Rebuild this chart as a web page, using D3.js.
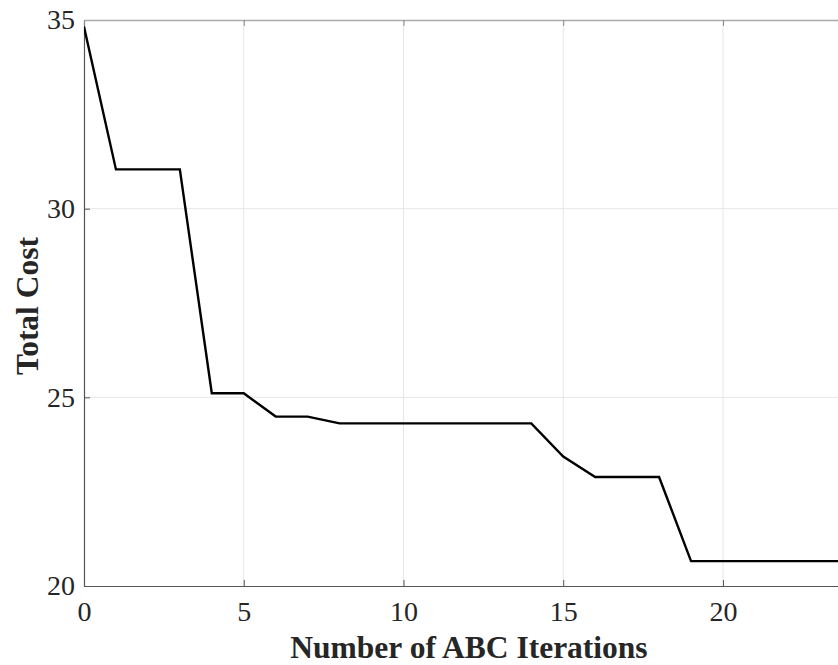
<!DOCTYPE html>
<html>
<head>
<meta charset="utf-8">
<script src="https://cdn.jsdelivr.net/npm/d3@7"></script>
<style>
  html, body { margin: 0; padding: 0; background: #fff; }
  svg { display: block; }
  .serif { font-family: "Liberation Serif", "Times New Roman", serif; }
</style>
</head>
<body>
<svg id="chart" width="838" height="665"></svg>
<script>
// Convergence of the ABC optimisation: best total cost per iteration
const iterations = [0, 1, 2, 3, 4, 5, 6, 7, 8, 9, 10, 11, 12, 13, 14, 15, 16, 17, 18, 19, 20, 21, 22, 23, 24];
const totalCost  = [34.82, 31.04, 31.04, 31.04, 25.11, 25.11, 24.49, 24.49, 24.31, 24.31, 24.31, 24.31, 24.31,
                    24.31, 24.31, 23.43, 22.89, 22.89, 22.89, 20.66, 20.66, 20.66, 20.66, 20.66, 20.66];
const xTicks = [0, 5, 10, 15, 20];
const yTicks = [20, 25, 30, 35];
const xLabel = "Number of ABC Iterations";
const yLabel = "Total Cost";

const svg = d3.select("#chart");
const plotLeft = 84, plotRight = 838, plotTop = 20, plotBottom = 586;

const x = d3.scaleLinear().domain([0, 23.6]).range([plotLeft, plotRight]);
const y = d3.scaleLinear().domain([20, 35]).range([plotBottom, plotTop]);

svg.append("defs").append("clipPath").attr("id", "plotClip")
  .append("rect").attr("x", plotLeft).attr("y", plotTop - 2)
  .attr("width", plotRight - plotLeft).attr("height", plotBottom - plotTop + 4);

// grid
const grid = svg.append("g");
grid.selectAll("line.gx").data(xTicks.filter(d => d > 0)).join("line")
  .attr("x1", d => x(d)).attr("x2", d => x(d)).attr("y1", plotTop).attr("y2", plotBottom)
  .attr("stroke", "#e6e6e6").attr("stroke-width", 1);
grid.selectAll("line.gy").data(yTicks.filter(d => d > 20 && d < 35)).join("line")
  .attr("x1", plotLeft).attr("x2", plotRight).attr("y1", d => y(d)).attr("y2", d => y(d))
  .attr("stroke", "#e6e6e6").attr("stroke-width", 1);

// axes with inward ticks
const xAxis = d3.axisBottom(x).tickValues(xTicks).tickSizeInner(-6).tickSizeOuter(0).tickPadding(15);
const yAxis = d3.axisLeft(y).tickValues(yTicks).tickSizeInner(-6).tickSizeOuter(0).tickPadding(9);
const xTop = d3.axisTop(x).tickValues(xTicks).tickSizeInner(-6).tickSizeOuter(0).tickFormat("");

const gx = svg.append("g").attr("transform", `translate(0,${plotBottom})`).call(xAxis);
const gy = svg.append("g").attr("transform", `translate(${plotLeft},0)`).call(yAxis);
const gt = svg.append("g").attr("transform", `translate(0,${plotTop})`).call(xTop);

[gx, gy].forEach(g => {
  g.attr("font-family", null).attr("font-size", null).classed("serif", true);
  g.select(".domain").attr("stroke", "#555").attr("stroke-width", 1.2);
  g.selectAll(".tick line").attr("stroke", "#555");
  g.selectAll(".tick text").classed("serif", true)
    .style("font-size", "28px").attr("fill", "#262626");
});
gt.select(".domain").attr("stroke", "#aaa").attr("stroke-width", 1.5);
gt.selectAll(".tick line").attr("stroke", "#888");

// cost curve
const line = d3.line().x((d, i) => x(iterations[i])).y(d => y(d));
svg.append("path").datum(totalCost)
  .attr("clip-path", "url(#plotClip)")
  .attr("d", line)
  .attr("fill", "none").attr("stroke", "#000").attr("stroke-width", 2.4)
  .attr("stroke-linejoin", "miter");

// axis titles
svg.append("text").attr("class", "serif").attr("x", 469).attr("y", 658).attr("text-anchor", "middle")
  .style("font-weight", "bold").style("font-size", "31.5px").attr("fill", "#262626")
  .text(xLabel);
svg.append("text").attr("class", "serif").attr("transform", "translate(38,306) rotate(-90)")
  .attr("text-anchor", "middle")
  .style("font-weight", "bold").style("font-size", "31.5px").attr("fill", "#262626")
  .text(yLabel);
</script>
</body>
</html>
